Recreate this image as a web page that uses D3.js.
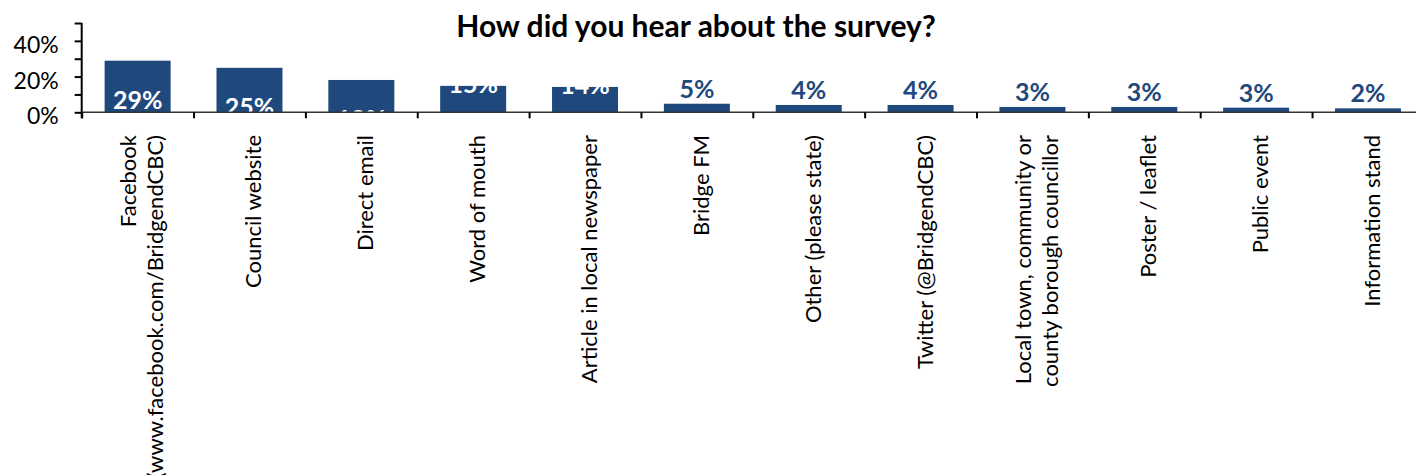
<!DOCTYPE html>
<html><head><meta charset="utf-8">
<script src="https://cdn.jsdelivr.net/npm/d3@7"></script>
<style>
body{margin:0;background:#fff;}
svg{display:block;font-family:Lato,"Open Sans",sans-serif;}
</style>
</head><body><svg id="c" width="1416" height="475"></svg>
<script>
const title = "How did you hear about the survey?";
const categories = [
  "Facebook\n(www.facebook.com/BridgendCBC)",
  "Council website",
  "Direct email",
  "Word of mouth",
  "Article in local newspaper",
  "Bridge FM",
  "Other (please state)",
  "Twitter (@BridgendCBC)",
  "Local town, community or\ncounty borough councillor",
  "Poster / leaflet",
  "Public event",
  "Information stand"
];
const values = [28.9, 24.9, 18.1, 14.8, 14.2, 4.8, 4.1, 4.1, 3.0, 3.0, 2.6, 2.2];
const valueLabels = ["29%","25%","18%","15%","14%","5%","4%","4%","3%","3%","3%","2%"];
const yTicks = [0, 10, 20, 30, 40, 50];
const yTickLabels = ["0%", "", "20%", "", "40%", ""];

const svg = d3.select("#c");
const barColor = "#1F497D";
const plotLeft = 81.7, step = 111.85, plotTop = 23, plotBottom = 112.3;
const plotRight = plotLeft + step * categories.length;

const x = d3.scaleBand().domain(d3.range(categories.length)).range([plotLeft, plotRight])
  .paddingInner(0.41).paddingOuter(0.205);
const y = d3.scaleLinear().domain([0, 50]).range([plotBottom, plotTop]);
const xb = d3.scaleLinear().domain([0, categories.length]).range([plotLeft, plotRight]);

svg.append("defs").append("clipPath").attr("id", "plot")
  .append("rect").attr("x", plotLeft).attr("y", 0).attr("width", plotRight - plotLeft).attr("height", plotBottom);

// title
svg.append("text").attr("x", 696).attr("y", 37).attr("text-anchor", "middle")
  .attr("font-weight", "bold").attr("font-size", 30).attr("fill", "#000").text(title);

// bars
const plot = svg.append("g").attr("clip-path", "url(#plot)");
plot.selectAll("rect.bar").data(values).join("rect").attr("class", "bar")
  .attr("x", (d, i) => x(i)).attr("width", x.bandwidth())
  .attr("y", d => y(d)).attr("height", d => y(0) - y(d)).attr("fill", barColor);

// value labels
plot.selectAll("text.vl").data(values).join("text").attr("class", "vl")
  .attr("x", (d, i) => x(i) + x.bandwidth() / 2)
  .attr("y", d => d >= 16 ? y(d) + 48 : d >= 10 ? y(d) + 7 : y(d) - 6)
  .attr("text-anchor", "middle").attr("font-weight", "bold").attr("font-size", 25)
  .attr("fill", d => d >= 10 ? "#fff" : barColor)
  .text((d, i) => valueLabels[i]);

// y axis
const ya = svg.append("g").attr("transform", `translate(${plotLeft},0)`)
  .call(d3.axisLeft(y).tickValues(yTicks).tickFormat((d, i) => yTickLabels[i]).tickSize(7).tickPadding(16));
ya.select(".domain").attr("stroke", "#000").attr("stroke-width", 2).attr("d", `M0,${plotTop}V${plotBottom + 6}`);
ya.selectAll(".tick line").attr("stroke", "#000").attr("stroke-width", 2);
ya.selectAll(".tick text").attr("font-size", 23).attr("fill", "#000").attr("dy", "0.5em")
  .attr("font-family", "Lato, 'Open Sans', sans-serif");

// x axis
const xa = svg.append("g").attr("transform", `translate(0,${plotBottom})`)
  .call(d3.axisBottom(xb).tickValues(d3.range(categories.length + 1)).tickFormat("").tickSize(6));
xa.select(".domain").attr("stroke", "#333").attr("stroke-width", 1.6).attr("d", `M${plotLeft},0H${plotRight}`);
xa.selectAll(".tick line").attr("stroke", "#000").attr("stroke-width", 2);

// category labels
const cl = svg.append("g").selectAll("g").data(categories).join("g")
  .attr("transform", (d, i) => `translate(${x(i) + x.bandwidth() / 2},135) rotate(-90)`);
cl.each(function (d) {
  const lines = d.split("\n");
  const n = lines.length;
  const t = d3.select(this).append("text").attr("text-anchor", "end")
    .attr("font-size", 22).attr("fill", "#000");
  lines.forEach((ln, j) => {
    t.append("tspan").attr("x", 0).attr("y", (j - (n - 1) / 2) * 27 + 12).text(ln);
  });
});
</script>
</body></html>
